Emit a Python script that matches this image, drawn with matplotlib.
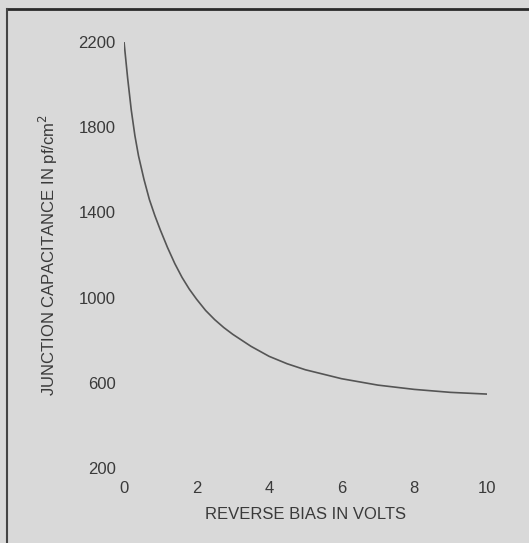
import matplotlib.pyplot as plt
from matplotlib.lines import Line2D

# values
bias = [0, 0.1, 0.2, 0.3, 0.4, 0.55, 0.7, 0.85, 1.0, 1.2, 1.4, 1.6, 1.8, 2.0, 2.25,
        2.5, 2.75, 3.0, 3.5, 4.0, 4.5, 5.0, 6.0, 7.0, 8.0, 9.0, 10.0]
capacitance = [2200, 2030, 1880, 1760, 1665, 1555, 1460, 1385, 1318, 1235, 1160, 1095, 1040, 993, 940,
               897, 860, 828, 772, 725, 690, 662, 620, 590, 570, 556, 548]

x_ticks = [0, 2, 4, 6, 8, 10]
y_ticks = [200, 600, 1000, 1400, 1800, 2200]

bg = '#d9d9d9'
ink = '#3a3a3a'

plt.rcParams['font.family'] = ['Liberation Sans', 'DejaVu Sans']

fig = plt.figure(figsize=(5.29, 5.43), dpi=100)
fig.patch.set_facecolor(bg)

ax = fig.add_axes([124 / 529, 1 - 468.3 / 543, (486.7 - 124) / 529, (468.3 - 41.7) / 543])
ax.set_facecolor(bg)
ax.plot(bias, capacitance, color='#555555', lw=1.2)

ax.set_xlim(0, 10)
ax.set_ylim(200, 2200)
ax.set_xticks(x_ticks)
ax.set_yticks(y_ticks)
for s in ax.spines.values():
    s.set_visible(False)
ax.tick_params(axis='x', length=0, pad=9, labelsize=12, labelcolor=ink)
ax.tick_params(axis='y', length=0, pad=6, labelsize=12, labelcolor=ink)

ax.set_xlabel('REVERSE BIAS IN VOLTS', fontsize=12, color=ink, labelpad=8)
ax.set_ylabel('JUNCTION CAPACITANCE IN pf/cm$^2$', fontsize=12, color=ink, labelpad=13)

# scan frame around the figure
fig.add_artist(Line2D([7 / 529, 1.0], [1 - 9 / 543, 1 - 9 / 543], color='#2a2a2a', lw=2))
fig.add_artist(Line2D([7 / 529, 7 / 529], [0, 1 - 9 / 543], color='#444444', lw=1.5))

fig.savefig('out.png', dpi=100, facecolor=bg)
